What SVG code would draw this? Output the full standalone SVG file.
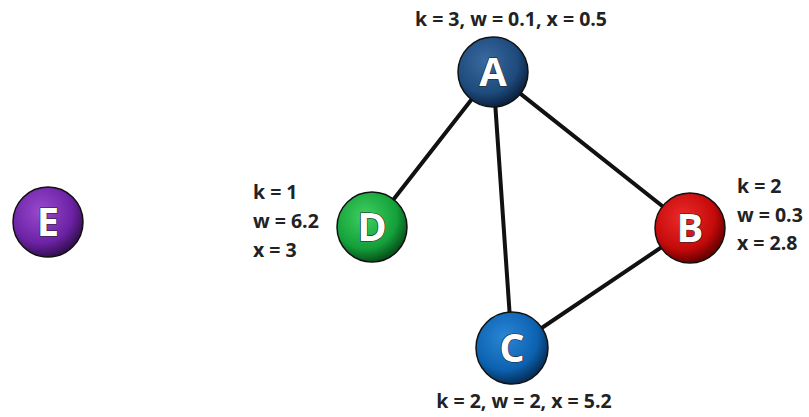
<svg xmlns="http://www.w3.org/2000/svg" width="809" height="417" viewBox="0 0 809 417">
<defs>
<radialGradient id="gA" cx="0.4" cy="0.35" r="0.65"><stop offset="0" stop-color="#3a6aa0"/><stop offset="0.7" stop-color="#1e4a7c"/><stop offset="1" stop-color="#0c2442"/></radialGradient>
<radialGradient id="gB" cx="0.4" cy="0.35" r="0.65"><stop offset="0" stop-color="#ee2a2a"/><stop offset="0.7" stop-color="#c40a0a"/><stop offset="1" stop-color="#6a0000"/></radialGradient>
<radialGradient id="gC" cx="0.4" cy="0.35" r="0.65"><stop offset="0" stop-color="#2a86d6"/><stop offset="0.7" stop-color="#0c62b0"/><stop offset="1" stop-color="#06305c"/></radialGradient>
<radialGradient id="gD" cx="0.4" cy="0.35" r="0.65"><stop offset="0" stop-color="#40d060"/><stop offset="0.7" stop-color="#14a03a"/><stop offset="1" stop-color="#07541c"/></radialGradient>
<radialGradient id="gE" cx="0.4" cy="0.35" r="0.65"><stop offset="0" stop-color="#9a4ad0"/><stop offset="0.7" stop-color="#6c22a4"/><stop offset="1" stop-color="#361056"/></radialGradient>
</defs>
<style>
.ball{stroke:#111;stroke-width:1.5}
.let{font-family:"Open Sans","Liberation Sans",sans-serif;font-weight:bold;font-size:40px;fill:#fff;stroke:#222;stroke-width:1.2;text-anchor:middle;paint-order:stroke}
.lbl{font-family:"Open Sans","Liberation Sans",sans-serif;font-weight:bold;font-size:19.5px;fill:#222}
.edge{stroke:#111;stroke-width:4;stroke-linecap:round}
</style>
<rect width="809" height="417" fill="#fff"/>
<g id="edges">
<line class="edge" x1="493" y1="72" x2="372" y2="227"/>
<line class="edge" x1="493" y1="72" x2="512" y2="348"/>
<line class="edge" x1="493" y1="72" x2="690" y2="228"/>
<line class="edge" x1="690" y1="228" x2="512" y2="348"/>
</g>
<g id="A"><circle class="ball" cx="493" cy="72" r="35" fill="url(#gA)"/><text class="let" x="493" y="86">A</text><text class="lbl" x="511" y="26" text-anchor="middle">k = 3, w = 0.1, x = 0.5</text></g>
<g id="B"><circle class="ball" cx="690" cy="228" r="35" fill="url(#gB)"/><text class="let" x="690" y="242">B</text><text class="lbl" x="737" y="193">k = 2</text><text class="lbl" x="737" y="222">w = 0.3</text><text class="lbl" x="737" y="250">x = 2.8</text></g>
<g id="C"><circle class="ball" cx="512" cy="348" r="36" fill="url(#gC)"/><text class="let" x="512" y="362">C</text><text class="lbl" x="524" y="408" text-anchor="middle">k = 2, w = 2, x = 5.2</text></g>
<g id="D"><circle class="ball" cx="372" cy="227" r="35" fill="url(#gD)"/><text class="let" x="372" y="241">D</text><text class="lbl" x="253" y="199">k = 1</text><text class="lbl" x="253" y="228">w = 6.2</text><text class="lbl" x="253" y="257">x = 3</text></g>
<g id="E"><circle class="ball" cx="48" cy="222" r="35" fill="url(#gE)"/><text class="let" x="48" y="236">E</text></g>
</svg>
